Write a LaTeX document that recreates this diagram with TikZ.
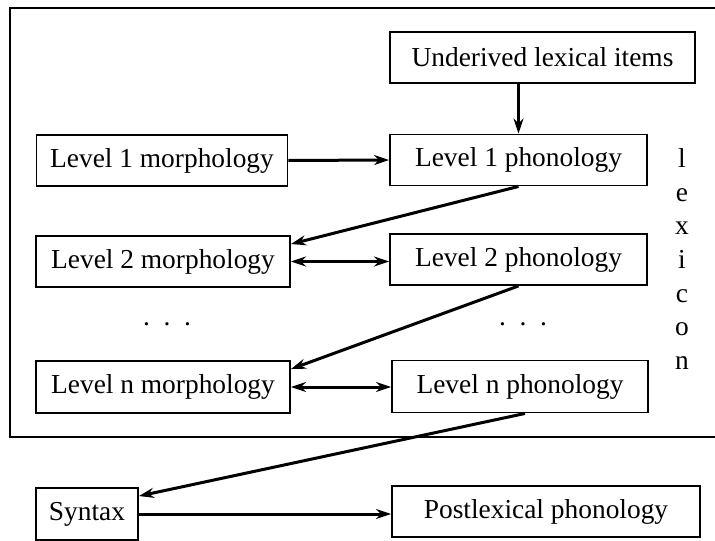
\documentclass[tikz,border=0pt]{standalone}
\usepackage{fontspec}
\setmainfont{Liberation Serif}
\usetikzlibrary{arrows.meta,calc}
\begin{document}
\begin{tikzpicture}[x=1bp,y=-1bp,
  box/.style={draw,line width=1.9bp,minimum height=51bp,inner sep=0pt,
    font=\fontsize{27.5}{32}\selectfont},
  arr/.style={line width=3bp,-{Stealth[length=15bp,width=10bp]}},
  darr/.style={line width=3bp,{Stealth[length=15bp,width=10bp]}-{Stealth[length=15bp,width=10bp]}},
  letter/.style={anchor=base,inner sep=0pt,font=\fontsize{27.5}{32}\selectfont},
  dots/.style={inner sep=0pt,font=\fontsize{27.5}{32}\selectfont}]
\useasboundingbox (0,0) rectangle (715,541);
\fill[white] (0,0) rectangle (715,541);

% lexicon frame (runs off the right edge)
\draw[line width=1.9bp] (10,8) rectangle (725,437);

% boxes
\node[box,minimum width=305bp] (under) at (542.5,57.5) {Underived lexical items};
\node[box,minimum width=251bp] (m1) at (162,160.5) {Level 1 morphology};
\node[box,minimum width=257bp] (p1) at (518.5,160) {Level 1 phonology};
\node[box,minimum width=254bp] (m2) at (163,261.5) {Level 2 morphology};
\node[box,minimum width=257bp] (p2) at (518.5,259.5) {Level 2 phonology};
\node[box,minimum width=254bp,minimum height=52bp] (mn) at (163,387) {Level n morphology};
\node[box,minimum width=256bp,minimum height=52bp] (pn) at (520,386.5) {Level n phonology};
\node[box,minimum width=102bp,minimum height=52bp] (syn) at (87,514) {Syntax};
\node[box,minimum width=308bp] (post) at (546,511.5) {Postlexical phonology};

% ellipses between level 2 and level n
\node[dots] (d1) at (167,324) {.\,\,\,.\,\,\,.};
\node[dots] (d2) at (523,324) {.\,\,\,.\,\,\,.};

% vertical label
\foreach \ch [count=\i from 0] in {l,e,x,i,c,o,n}
  \node[letter] (lex\i) at (682,168+33.5*\i) {\ch};

% connectors
\draw[arr] (under.south -| p1.north) -- (p1.north);
\draw[arr] (m1.east) -- (p1.west);
\coordinate (t2) at ([yshift=-9bp]m2.north east);
\draw[arr] (p1.south) -- (t2);
\draw[darr] (m2.east) -- (m2.east -| p2.west);
\coordinate (tn) at ([yshift=-9bp]mn.north east);
\draw[arr] (p2.south) -- (tn);
\draw[darr] (mn.east) -- (mn.east -| pn.west);
\coordinate (ts) at ([yshift=-9bp]syn.north east);
\draw[arr] ([xshift=5bp]pn.south) -- (ts);
\draw[arr] (syn.east) -- (syn.east -| post.west);
\end{tikzpicture}
\end{document}
